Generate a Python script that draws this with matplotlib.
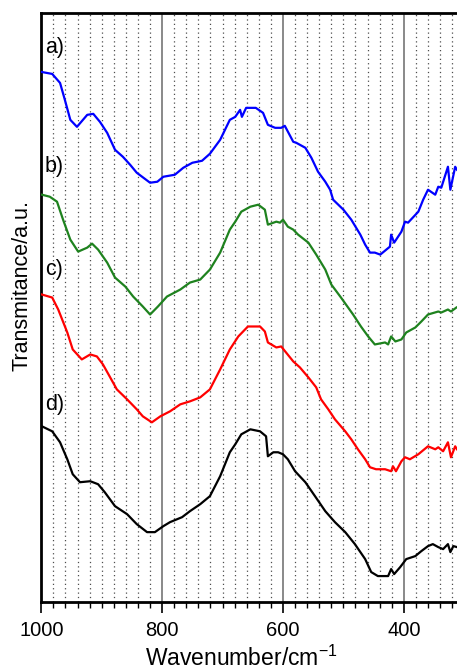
import matplotlib
matplotlib.use("Agg")
import matplotlib.pyplot as plt
from matplotlib.ticker import MultipleLocator, FixedLocator

plt.rcParams["font.family"] = ["Liberation Sans", "DejaVu Sans"]
plt.rcParams["mathtext.fontset"] = "custom"
plt.rcParams["mathtext.rm"] = "Liberation Sans"

# ---- data ----
wn_a = [1000, 982, 969, 961, 952, 941, 924, 914, 903, 891, 878, 865, 853, 842, 820, 808, 798, 779, 765, 750,
        734, 721, 704, 688, 679, 671, 668, 661, 645, 633, 625, 613, 603, 597, 583, 578, 563, 553, 542, 530,
        522, 517, 500, 487, 472, 464, 456, 448, 439, 431, 423, 421, 416, 404, 398, 393, 376, 368, 360, 348,
        343, 338, 327, 323, 315, 312]
t_a = [531, 529, 520, 503, 483, 476, 488, 489, 481, 470, 453, 446, 438, 430, 420, 421, 426, 428, 435, 440,
       442, 449, 463, 483, 486, 493, 486, 495, 495, 490, 478, 475, 475, 477, 461, 460, 455, 445, 431, 421,
       413, 403, 393, 383, 368, 358, 350, 350, 348, 352, 356, 368, 360, 371, 381, 380, 391, 403, 413, 408,
       416, 415, 436, 413, 436, 433]

wn_b = [999, 986, 974, 964, 952, 939, 924, 916, 906, 891, 878, 861, 848, 832, 820, 807, 792, 770, 754, 737,
        721, 704, 688, 679, 669, 654, 641, 630, 625, 611, 605, 600, 592, 583, 575, 558, 545, 530, 520, 504,
        484, 471, 459, 448, 431, 426, 421, 414, 404, 396, 381, 371, 360, 343, 338, 327, 322, 313]
t_b = [408, 406, 401, 383, 363, 351, 355, 359, 353, 340, 325, 316, 306, 296, 288, 296, 306, 313, 320, 323,
       333, 350, 373, 381, 391, 396, 398, 393, 378, 381, 380, 383, 376, 373, 368, 360, 348, 333, 318, 305,
       288, 276, 266, 258, 260, 258, 266, 261, 263, 270, 275, 281, 288, 291, 290, 293, 291, 295]

wn_c = [999, 982, 972, 957, 948, 933, 919, 908, 898, 886, 875, 858, 842, 832, 817, 803, 787, 770, 754, 737,
        721, 704, 688, 674, 658, 638, 630, 625, 611, 603, 595, 583, 572, 558, 545, 537, 525, 514, 497, 487,
        476, 464, 456, 446, 431, 421, 418, 413, 404, 398, 390, 376, 360, 348, 343, 335, 327, 322, 315, 312]
t_c = [308, 305, 293, 270, 253, 243, 248, 246, 238, 225, 213, 203, 193, 186, 180, 186, 191, 198, 201, 205,
       213, 233, 253, 266, 276, 276, 271, 260, 255, 256, 250, 241, 235, 225, 215, 203, 193, 183, 171, 163,
       153, 143, 135, 133, 133, 131, 136, 131, 141, 145, 143, 148, 156, 153, 155, 151, 160, 145, 156, 153]

wn_d = [999, 982, 969, 957, 948, 936, 919, 906, 895, 878, 858, 842, 825, 812, 798, 787, 767, 754, 737, 721,
        704, 688, 679, 669, 654, 638, 628, 625, 616, 608, 600, 592, 580, 563, 547, 530, 514, 497, 481, 464,
        454, 443, 426, 421, 416, 406, 396, 381, 371, 360, 352, 343, 335, 327, 323, 318, 312]
t_d = [176, 171, 160, 143, 128, 120, 121, 118, 110, 96, 88, 78, 70, 70, 76, 80, 85, 91, 98, 106,
       126, 150, 158, 168, 173, 171, 166, 146, 150, 150, 148, 143, 131, 120, 106, 91, 80, 70, 58, 43,
       30, 26, 26, 33, 28, 35, 43, 46, 51, 56, 58, 55, 53, 58, 50, 56, 55]

labels = ["a)", "b)", "c)", "d)"]
colors = ["#0000ff", "#1e821e", "#ff0000", "#000000"]
series = [(wn_a, t_a), (wn_b, t_b), (wn_c, t_c), (wn_d, t_d)]
label_y = [0.941, 0.739, 0.564, 0.336]
major_ticks = [1000, 800, 600, 400]

fig = plt.figure(figsize=(4.57, 6.71), dpi=100)
ax = fig.add_axes([0.0904, 0.1028, 0.9096, 0.8778])

for (x, y), c in zip(series, colors):
    ax.plot(x, y, color=c, lw=1.6, zorder=3)

ax.set_xlim(1000, 312)
ax.set_ylim(0, 590)

ax.xaxis.set_major_locator(FixedLocator(major_ticks))
ax.xaxis.set_minor_locator(MultipleLocator(20))
ax.set_yticks([])
ax.grid(which="major", axis="x", color="0.5", lw=1.3, ls="-", zorder=1)
ax.grid(which="minor", axis="x", color="0.3", lw=0.9, ls=(0, (1, 2.5)), zorder=1)

ax.tick_params(axis="x", which="major", direction="out", length=8, width=1.2, labelsize=14.5, pad=6)
ax.tick_params(axis="x", which="minor", direction="out", length=4, width=1.0)

for s in ["left", "top", "bottom"]:
    ax.spines[s].set_linewidth(2)
ax.spines["right"].set_visible(False)

for lab, yy in zip(labels, label_y):
    ax.text(0.008, yy, lab, transform=ax.transAxes, fontsize=15.5, ha="left", va="center")

ax.set_xlabel("Wavenumber/cm$^{\u22121}$", fontsize=16.5)
ax.xaxis.set_label_coords(0.481, -0.074)
ax.set_ylabel("Transmitance/a.u.", fontsize=15.5)
ax.yaxis.set_label_coords(-0.02, 0.537)

fig.savefig("out.png", dpi=100)
